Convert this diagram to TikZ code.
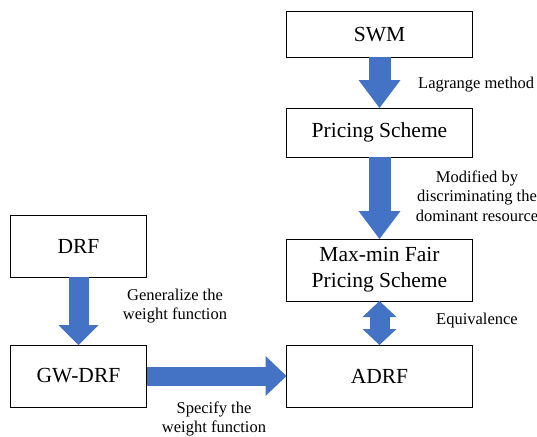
\documentclass[tikz,border=0pt]{standalone}
\usepackage{fontspec}
\setmainfont{Liberation Serif}
\usepackage{tikz}
\usetikzlibrary{positioning,arrows.meta}
\definecolor{arrowblue}{RGB}{68,114,196}

\begin{document}
\begin{tikzpicture}[x=1pt,y=-1pt,node distance=44pt,
    box/.style={draw=black,line width=1pt,fill=white,inner sep=0pt,outer sep=0pt,align=center,minimum width=186pt,minimum height=62pt,font=\fontsize{21.5}{26}\selectfont},
    note/.style={inner sep=0pt,align=center,font=\fontsize{16.5}{19.5}\selectfont},
    fatarrow/.style={draw=arrowblue,line width=22pt,-{Triangle[width=42pt,length=28pt,line width=0pt]}}]
        \useasboundingbox (0,0) rectangle (537,436);
        % right column
        \node[box,minimum height=45pt] (swm) at (379.5,34.5) {SWM};
        \node[box,minimum height=49pt,below=51pt of swm] (pricing) {Pricing Scheme};
        \node[box,below=82pt of pricing] (maxmin) {Max-min Fair\\Pricing Scheme};
        \node[box,below=of maxmin] (adrf) {ADRF};
        % left column
        \node[box,minimum width=136pt] (drf) at (78.5,246) {DRF};
        \node[box,minimum width=136pt,below=68pt of drf] (gwdrf) {GW-DRF};
        % block arrows
        \draw[fatarrow] (swm) -- (pricing);
        \draw[fatarrow] (pricing) -- (maxmin);
        \draw[fatarrow,line width=20pt,-{Triangle[width=40pt,length=20pt,line width=0pt]}] (drf) -- (gwdrf);
        \draw[fatarrow,line width=19pt,-{Triangle[width=40pt,length=21pt,line width=0pt]}] (gwdrf) -- (adrf);
        \draw[fatarrow,line width=20pt,{Triangle[width=34pt,length=16pt,line width=0pt]}-{Triangle[width=34pt,length=16pt,line width=0pt]}] (maxmin) -- (adrf);
        % labels
        \node[note,anchor=west] (lagrange) at (418,85) {Lagrange method};
        \node[note] (modified) at (477,196) {Modified by\\discriminating the\\dominant resource};
        \node[note] (generalize) at (175,306) {Generalize the\\weight function};
        \node[note] (specify) at (214,419) {Specify the\\weight function};
        \node[note] (equiv) at (477,321) {Equivalence};
      \end{tikzpicture}
\end{document}
